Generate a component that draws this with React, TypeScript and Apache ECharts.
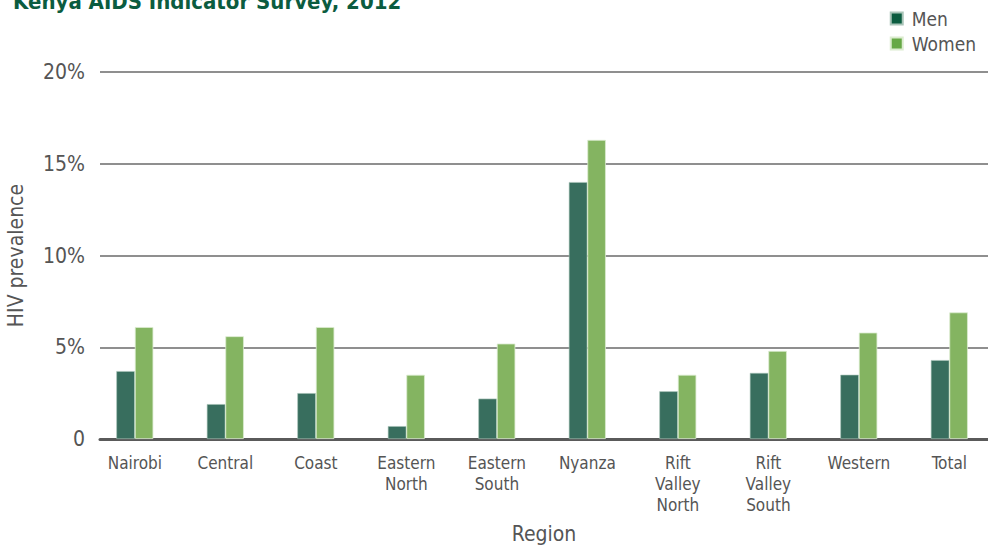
import React, { useEffect, useRef } from "react";
import * as echarts from "echarts";

const titleText = "Kenya AIDS Indicator Survey, 2012";
const categories = [
  "Nairobi",
  "Central",
  "Coast",
  "Eastern\nNorth",
  "Eastern\nSouth",
  "Nyanza",
  "Rift\nValley\nNorth",
  "Rift\nValley\nSouth",
  "Western",
  "Total",
];
const menValues = [3.7, 1.9, 2.5, 0.7, 2.2, 14.0, 2.6, 3.6, 3.5, 4.3];
const womenValues = [6.1, 5.6, 6.1, 3.5, 5.2, 16.3, 3.5, 4.8, 5.8, 6.9];
const yTicks = [0, 5, 10, 15, 20];

const FONT = "'Liberation Sans Narrow', 'DejaVu Sans Condensed', 'Noto Sans', sans-serif";

export default function App() {
  const ref = useRef<HTMLDivElement>(null);
  useEffect(() => {
    if (!ref.current) return;
    const chart = echarts.init(ref.current, undefined, { renderer: "svg" });
    const yMin = yTicks[0];
    const yMax = yTicks[yTicks.length - 1];
    const interval = yTicks[1] - yTicks[0];
    chart.setOption({
      animation: false,
      backgroundColor: "#ffffff",
      title: {
        text: titleText,
        left: 8,
        top: -15,
        textStyle: {
          fontFamily: FONT,
          fontWeight: "bold",
          fontSize: 22,
          color: "#0b5c40",
        },
      },
      legend: {
        orient: "vertical",
        right: 7,
        top: 4,
        itemWidth: 12,
        itemHeight: 12,
        itemGap: 6,
        icon: "rect",
        textStyle: { fontFamily: FONT, fontSize: 19, color: "#555555", padding: [0, 0, 0, 4] },
        data: [
          { name: "Men", itemStyle: { color: "#0b5c40" } },
          { name: "Women", itemStyle: { color: "#66a845" } },
        ],
      },
      grid: [
        { left: 100, right: 0, top: 72, bottom: 107, containLabel: false, outerBoundsMode: "none" },
        { left: 89.6, right: -6.6, top: 72, bottom: 107, containLabel: false, outerBoundsMode: "none" },
      ],
      xAxis: [
        {
          type: "category",
          gridIndex: 0,
          data: categories,
          axisLine: { show: true, lineStyle: { color: "#5a5a5a", width: 3 } },
          axisTick: { show: false },
          axisLabel: { show: false },
          name: "Region",
          nameLocation: "middle",
          nameGap: 84,
          nameTextStyle: { fontFamily: FONT, fontSize: 21, color: "#555555" },
        },
        {
          type: "category",
          gridIndex: 1,
          data: categories,
          axisLine: { show: false },
          axisTick: { show: false },
          axisLabel: {
            fontFamily: FONT,
            fontSize: 17,
            color: "#555555",
            lineHeight: 21,
            margin: 13,
            interval: 0,
          },
        },
      ],
      yAxis: [
        {
          type: "value",
          gridIndex: 0,
          min: yMin,
          max: yMax,
          interval: interval,
          axisLine: { show: false },
          axisTick: { show: false },
          axisLabel: {
            fontFamily: FONT,
            fontSize: 21,
            color: "#555555",
            margin: 15,
            formatter: (v: number) => (v === 0 ? "0" : v + "%"),
          },
          splitLine: { show: true, lineStyle: { color: "#6a6a6a", width: 1.5 } },
          name: "HIV prevalence",
          nameLocation: "middle",
          nameGap: 74,
          nameRotate: 90,
          nameTextStyle: { fontFamily: FONT, fontSize: 21, color: "#555555" },
        },
        {
          type: "value",
          gridIndex: 1,
          min: yMin,
          max: yMax,
          interval: interval,
          show: false,
          splitLine: { show: false },
        },
      ],
      series: [
        {
          name: "Men",
          type: "bar",
          xAxisIndex: 1,
          yAxisIndex: 1,
          data: menValues,
          barWidth: 18.5,
          barGap: "0%",
          itemStyle: { color: "#386e5e", borderColor: "#a9c4b8", borderWidth: 0.6 },
        },
        {
          name: "Women",
          type: "bar",
          xAxisIndex: 1,
          yAxisIndex: 1,
          data: womenValues,
          barWidth: 18.5,
          barGap: "0%",
          itemStyle: { color: "#84b461", borderColor: "#dcecd0", borderWidth: 0.8 },
        },
      ],
    });
    return () => chart.dispose();
  }, []);
  return (
    <div
      ref={ref}
      style={{ position: "fixed", left: 0, top: 0, width: 988, height: 546, overflow: "hidden" }}
    />
  );
}
